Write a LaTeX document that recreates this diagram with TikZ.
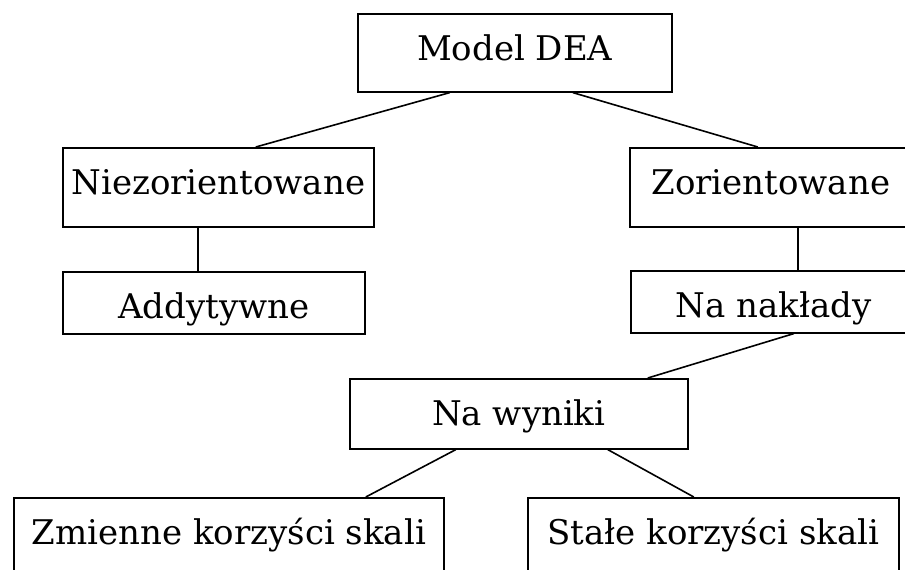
\documentclass[tikz,border=0pt]{standalone}
\usepackage{fontspec}
\setmainfont{DejaVu Serif}
\usepackage{tikz}
\usetikzlibrary{calc}
\usetikzlibrary{positioning}

\begin{document}
\begin{tikzpicture}
	[
	x=1pt,y=-1pt,
	font=\fontsize{34}{40}\selectfont,
	line width=1.6pt
	]
	
	% Box style: text baseline sits 47pt below the top edge
	\tikzstyle{box node}=[draw,rectangle,inner sep=0,anchor=north west,text height=47pt];
	
	% Frame of the picture
	\clip (0,0) rectangle (905,570);
	
	% The boxes
	\node(dea)[box node,minimum width=314,text depth=31]at(357,13){Model DEA};
	% Non-oriented branch
	\node(nie)[box node,minimum width=311,text depth=32]at(62,147){Niezorientowane};
	\node(add)[box node,minimum width=302,text depth=15]at(62,271){Addytywne};
	% Oriented branch
	\node(zor)[box node,minimum width=282,text depth=32]at(629,147){Zorientowane};
	\node(nak)[box node,minimum width=286,text depth=15]at(630,270){Na nakłady};
	\node(wyn)[box node,minimum width=338,text depth=23]at(349,378){Na wyniki};
	% Returns to scale
	\node(zmi)[box node,minimum width=430,text depth=60]at(13,497){Zmienne korzyści skali};
	\node(sta)[box node,minimum width=371,text depth=60]at(527,497){Stałe korzyści skali};
	
	% Connectors
	\draw([xshift=-65]dea.south)--([xshift=37.5]nie.north);
	\draw([xshift=58]dea.south)--([xshift=-13]zor.north);
	\draw([xshift=-20.5]nie.south)--([xshift=-16]add.north);
	\draw([xshift=27]zor.south)--([xshift=24]nak.north);
	\draw([xshift=20]nak.south)--([xshift=129]wyn.north);
	\draw([xshift=-63]wyn.south)--([xshift=137]zmi.north);
	\draw([xshift=89]wyn.south)--([xshift=-19.5]sta.north);
\end{tikzpicture}
\end{document}
